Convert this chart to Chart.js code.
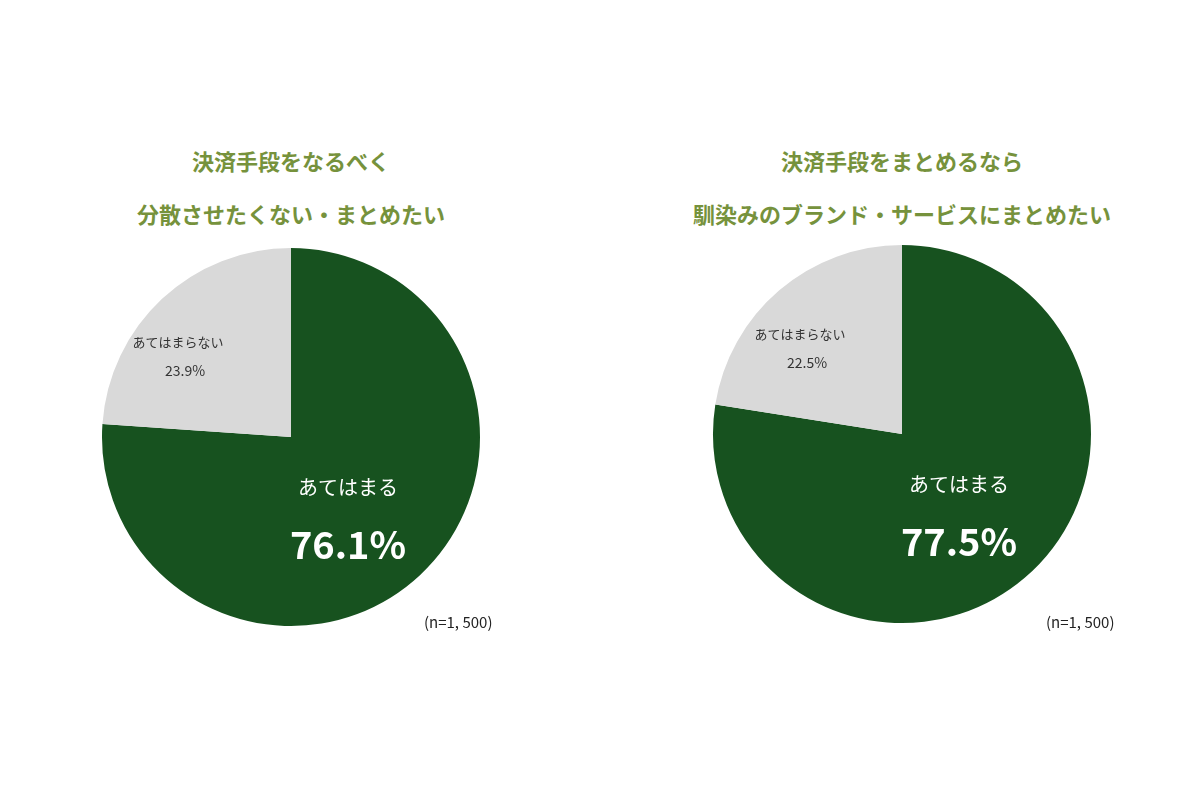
<!DOCTYPE html>
<html><head><meta charset="utf-8">
<script src="https://cdn.jsdelivr.net/npm/chart.js@4/dist/chart.umd.min.js"></script>
<style>
body{margin:0;width:1200px;height:800px;background:#fff;position:relative;font-family:"Noto Sans CJK JP",sans-serif;overflow:hidden}
.t{position:absolute;color:#76923c;font-weight:bold;font-size:22px;text-align:center;width:600px;line-height:53px}
.c{position:absolute;width:390px;height:390px}
.n{position:absolute;font-size:15px;color:#222}
</style></head><body>
<div class="t" style="left:-9px;top:134px">決済手段をなるべく<br>分散させたくない・まとめたい</div>
<div class="t" style="left:602px;top:134px">決済手段をまとめるなら<br>馴染みのブランド・サービスにまとめたい</div>
<div class="c" style="left:96px;top:242px"><canvas id="p1"></canvas></div>
<div class="c" style="left:707px;top:239px"><canvas id="p2"></canvas></div>
<div class="n" style="left:424px;top:611px">(n=1, 500)</div>
<div class="n" style="left:1046px;top:611px">(n=1, 500)</div>
<script>
var categories = ["あてはまる", "あてはまらない"];
var values1 = [76.1, 23.9];
var values2 = [77.5, 22.5];
var colors = ["#17521f", "#d9d9d9"];

var labelPlugin = {
  id: "labels",
  afterDraw: function (chart, args, opts) {
    var ctx = chart.ctx;
    var meta = chart.getDatasetMeta(0).data[0];
    var cx = meta.x, cy = meta.y;
    var v = chart.data.datasets[0].data;
    ctx.save();
    ctx.textAlign = "center";
    ctx.textBaseline = "middle";
    ctx.fillStyle = "#333";
    ctx.font = "13px 'Noto Sans CJK JP'";
    ctx.fillText(categories[1], cx + opts.g[0], cy + opts.g[1]);
    ctx.font = "14px 'Noto Sans CJK JP'";
    ctx.fillText(v[1].toFixed(1) + "%", cx + opts.g[0] + 7, cy + opts.g[1] + 29);
    ctx.fillStyle = "#fff";
    ctx.font = "20px 'Noto Sans CJK JP'";
    ctx.fillText(categories[0], cx + 57, cy + 50);
    ctx.font = "bold 38px 'Noto Sans CJK JP'";
    ctx.fillText(v[0].toFixed(1) + "%", cx + 57, cy + 108);
    ctx.restore();
  }
};

function makePie(id, data, g) {
  new Chart(document.getElementById(id), {
    type: "pie",
    data: { labels: categories, datasets: [{ data: data, backgroundColor: colors, borderWidth: 0 }] },
    options: {
      responsive: true, maintainAspectRatio: false, animation: false,
      layout: { padding: 6 },
      plugins: { legend: { display: false }, tooltip: { enabled: false }, labels: { g: g } }
    },
    plugins: [labelPlugin]
  });
}
makePie("p1", values1, [-113, -95]);
makePie("p2", values2, [-102, -100]);
</script>
</body></html>
